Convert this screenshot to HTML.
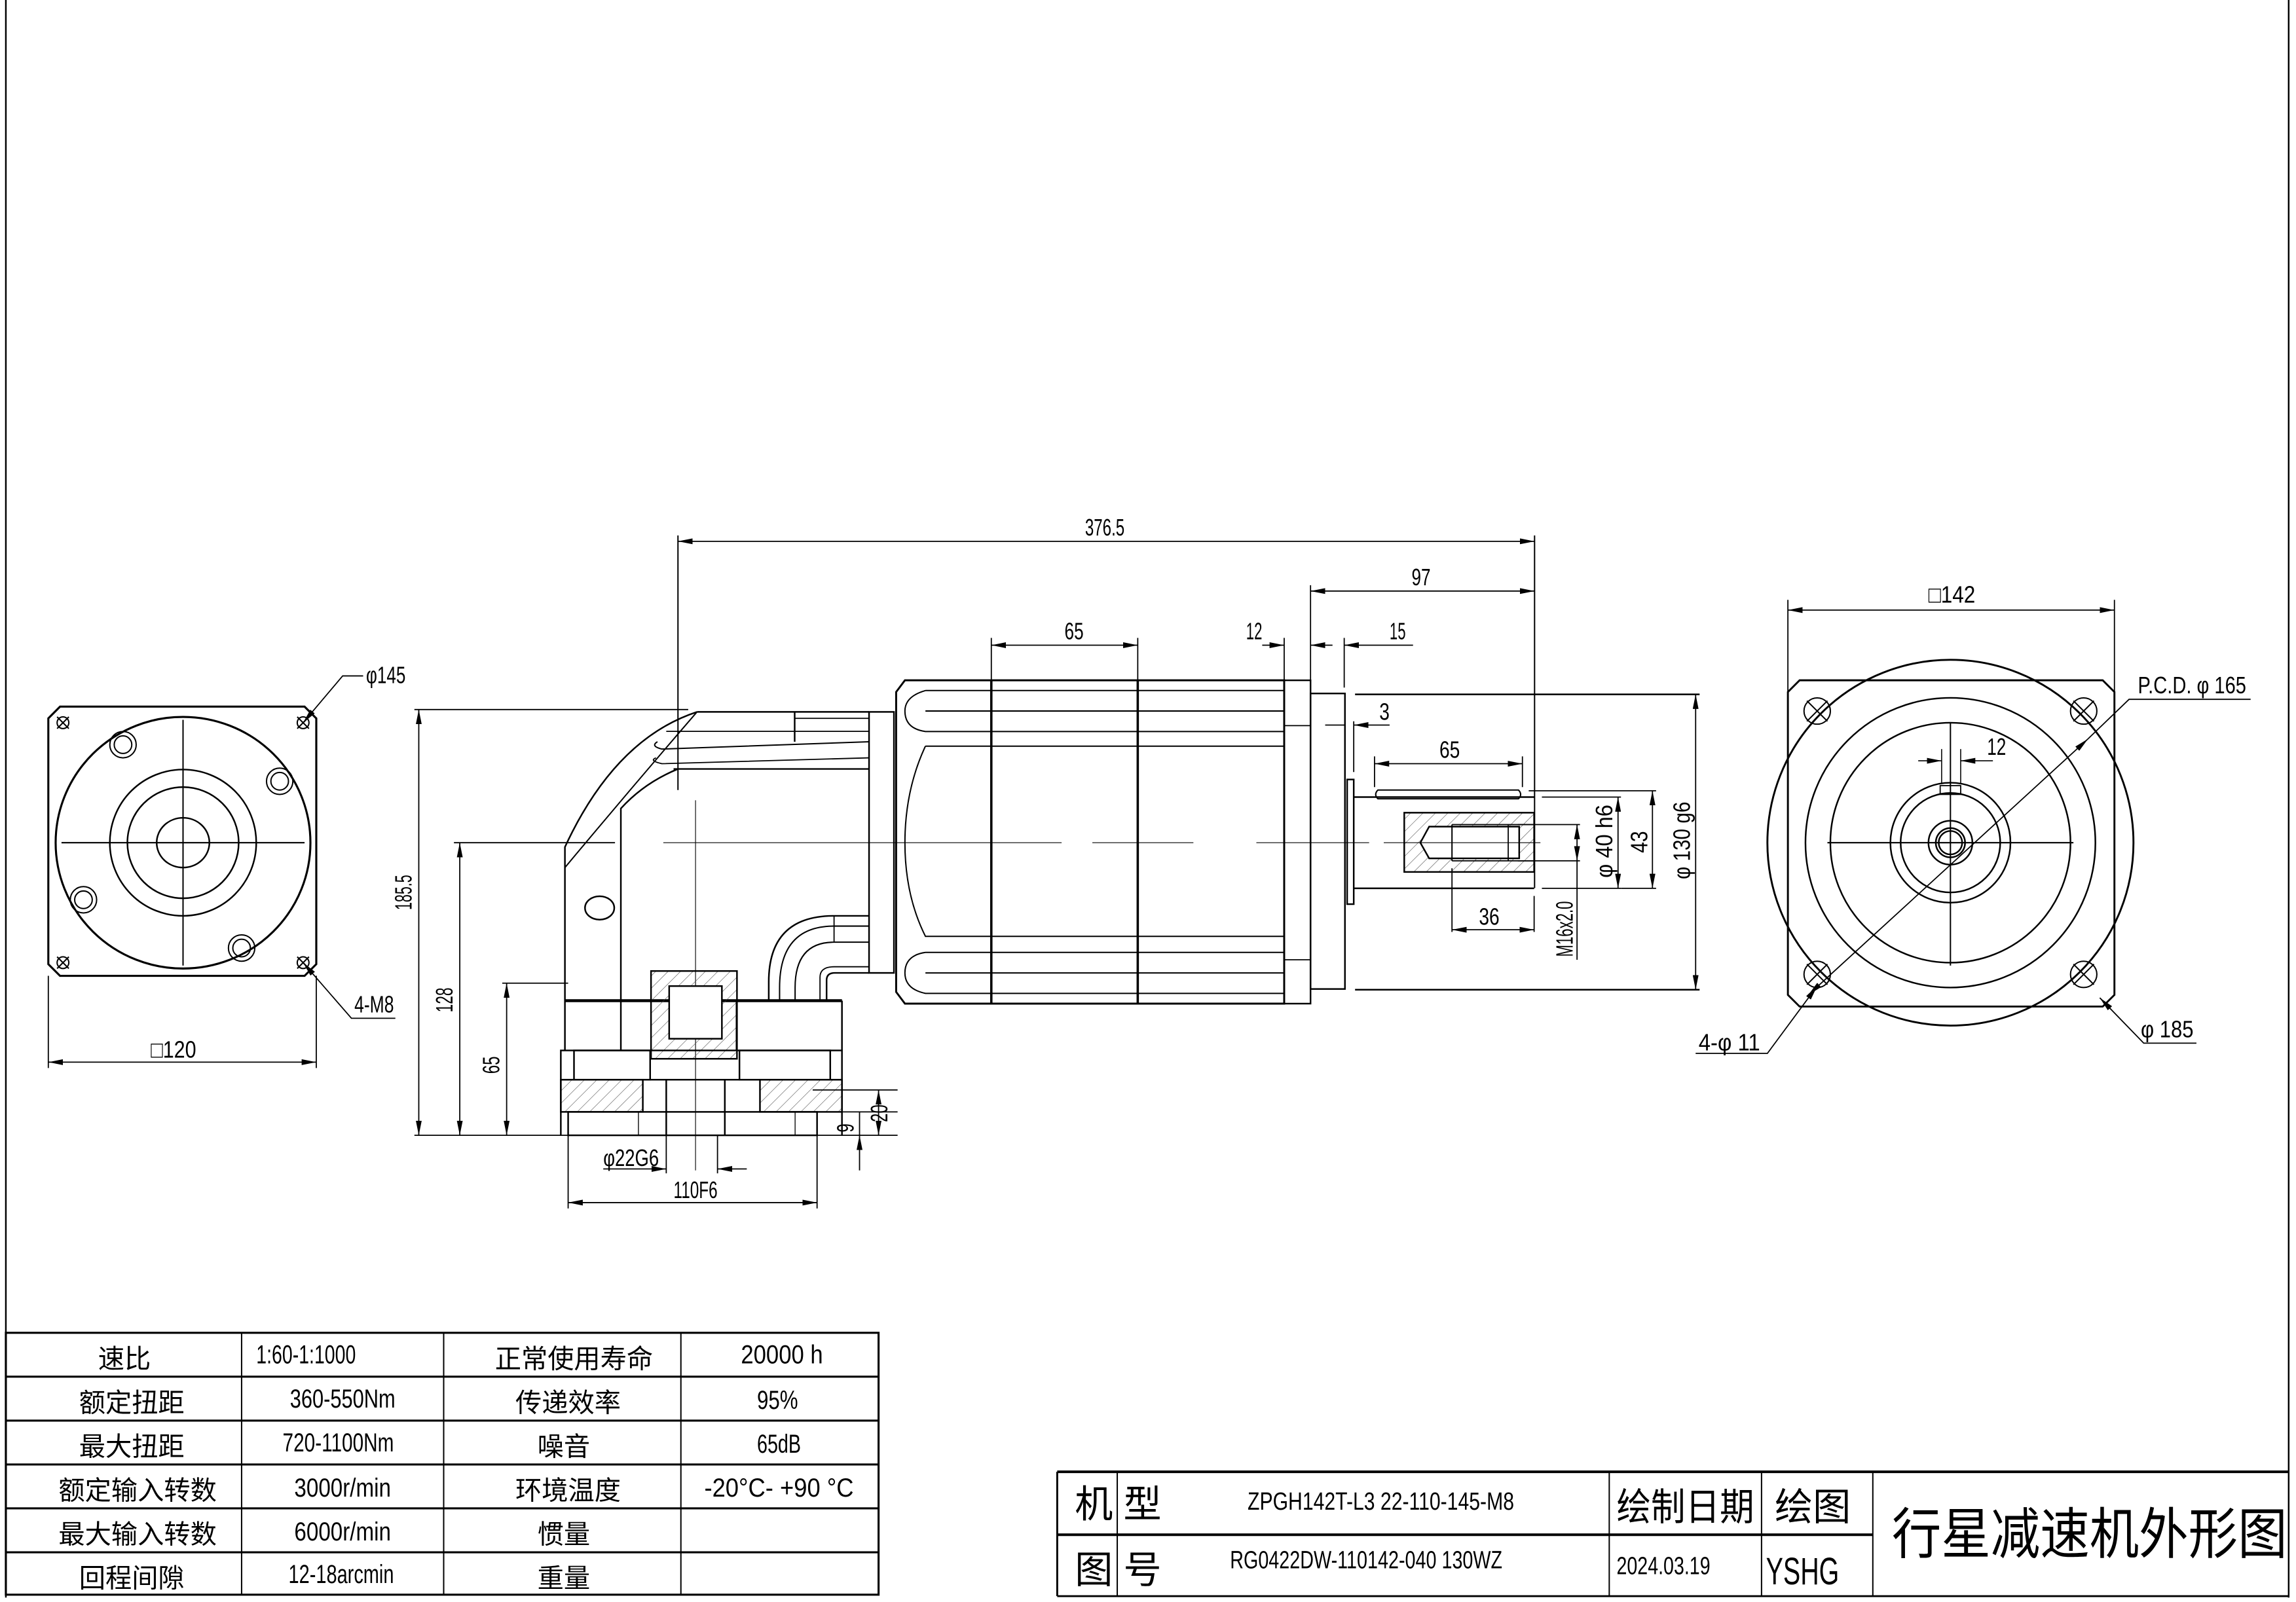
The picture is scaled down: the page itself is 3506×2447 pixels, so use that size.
<!DOCTYPE html>
<html><head><meta charset="utf-8"><style>
html,body{margin:0;padding:0;background:#fff}
svg{display:block}
text{font-family:"Liberation Sans","Noto Sans CJK SC",sans-serif;fill:#000}
</style></head><body>
<svg width="3506" height="2447" viewBox="0 0 1568 1095" preserveAspectRatio="none" xmlns="http://www.w3.org/2000/svg">
<defs>
<marker id="a" viewBox="0 0 10 4" refX="10" refY="2" markerWidth="10" markerHeight="4" markerUnits="userSpaceOnUse" orient="auto-start-reverse"><path d="M0,0 L10,2 L0,4z" fill="#000"/></marker>
<pattern id="h" width="6" height="6" patternUnits="userSpaceOnUse" patternTransform="rotate(45)"><line x1="0" y1="0" x2="0" y2="6" stroke="#444" stroke-width="0.5"/></pattern>
</defs>
<g fill="none" stroke="#000" stroke-width="1.1">
<line x1="4" y1="0" x2="4" y2="1092"/>
<line x1="1563" y1="0" x2="1563" y2="1092"/>

<path d="M41,483 L208,483 L216,491 L216,659 L208,667 L41,667 L33,659 L33,491 Z" stroke-width="1.4"/>
<ellipse cx="125" cy="576" rx="87" ry="86" stroke-width="1.4"/>
<ellipse cx="125" cy="576" rx="50" ry="50"/>
<ellipse cx="125" cy="576" rx="38" ry="38"/>
<ellipse cx="125" cy="576" rx="18" ry="17"/>
<line x1="125" y1="492" x2="125" y2="660" stroke-width="0.9"/>
<line x1="42" y1="576" x2="208" y2="576" stroke-width="0.9"/>
<g stroke-width="0.9">
<circle cx="84" cy="509" r="9"/><circle cx="84" cy="509" r="6"/>
<circle cx="191" cy="534" r="9"/><circle cx="191" cy="534" r="6"/>
<circle cx="57" cy="615" r="9"/><circle cx="57" cy="615" r="6"/>
<circle cx="165" cy="648" r="9"/><circle cx="165" cy="648" r="6"/>
<circle cx="43" cy="494" r="4"/><path d="M39,490 L47,498 M47,490 L39,498"/>
<circle cx="207" cy="494" r="4"/><path d="M203,490 L211,498 M211,490 L203,498"/>
<circle cx="43" cy="658" r="4"/><path d="M39,654 L47,662 M47,654 L39,662"/>
<circle cx="207" cy="658" r="4"/><path d="M203,654 L211,662 M211,654 L203,662"/>
</g>
<line x1="33" y1="667" x2="33" y2="730" stroke-width="0.8"/>
<line x1="216" y1="667" x2="216" y2="730" stroke-width="0.8"/>
<line x1="33" y1="726" x2="216" y2="726" stroke-width="0.8" marker-start="url(#a)" marker-end="url(#a)"/>
<polyline points="207,494 234,462 248,462" stroke-width="0.8" marker-start="url(#a)"/>
<polyline points="207,658 240,696 270,696" stroke-width="0.8" marker-start="url(#a)"/>

<line x1="283" y1="485" x2="470" y2="485" stroke-width="0.8"/>
<line x1="283" y1="776" x2="392" y2="776" stroke-width="0.8"/>
<line x1="286" y1="485" x2="286" y2="776" stroke-width="0.8" marker-start="url(#a)" marker-end="url(#a)"/>
<line x1="310" y1="576" x2="420" y2="576" stroke-width="0.8"/>
<line x1="314" y1="576" x2="314" y2="776" stroke-width="0.8" marker-start="url(#a)" marker-end="url(#a)"/>
<line x1="343" y1="672" x2="388" y2="672" stroke-width="0.8"/>
<line x1="346" y1="672" x2="346" y2="776" stroke-width="0.8" marker-start="url(#a)" marker-end="url(#a)"/>

<line x1="463" y1="366" x2="463" y2="540" stroke-width="0.9"/>
<line x1="1048" y1="366" x2="1048" y2="607" stroke-width="0.9"/>
<line x1="463" y1="370" x2="1048" y2="370" stroke-width="0.8" marker-start="url(#a)" marker-end="url(#a)"/>
<line x1="895" y1="400" x2="895" y2="465" stroke-width="0.8"/>
<line x1="895" y1="404" x2="1048" y2="404" stroke-width="0.8" marker-start="url(#a)" marker-end="url(#a)"/>
<line x1="677" y1="436" x2="677" y2="465" stroke-width="0.8"/>
<line x1="777" y1="436" x2="777" y2="465" stroke-width="0.8"/>
<line x1="677" y1="441" x2="777" y2="441" stroke-width="0.8" marker-start="url(#a)" marker-end="url(#a)"/>
<line x1="877" y1="436" x2="877" y2="465" stroke-width="0.8"/>
<line x1="918" y1="436" x2="918" y2="470" stroke-width="0.8"/>
<line x1="862" y1="441" x2="877" y2="441" stroke-width="0.8" marker-end="url(#a)"/>
<line x1="895" y1="441" x2="910" y2="441" stroke-width="0.8" marker-start="url(#a)"/>
<line x1="918" y1="441" x2="965" y2="441" stroke-width="0.8" marker-start="url(#a)"/>

<path d="M385.8,684 L385.8,579 Q420,505 476,486.6"/>
<path d="M385.8,593 Q430,540 476,486.6" stroke-width="0.9"/>
<path d="M424,684 L424,552.6 Q440,535 463,525.6" />
<line x1="476" y1="486.6" x2="593.5" y2="486.6"/>
<line x1="455" y1="499.9" x2="593.5" y2="499.9" stroke-width="0.8"/>
<path d="M449,507 Q444,510 452,512 L593.5,507" stroke-width="0.9"/>
<path d="M448,518 Q443,520 452,522 L593.5,518" stroke-width="0.8"/>
<line x1="460" y1="525.6" x2="593.5" y2="525.6"/>
<line x1="542.7" y1="486.6" x2="542.7" y2="507"/>
<line x1="542.7" y1="491" x2="593.5" y2="491" stroke-width="0.8"/>
<rect x="593.5" y="486.6" width="17" height="178.4"/>
<ellipse cx="409.5" cy="620.6" rx="10" ry="8"/>
<line x1="475" y1="547" x2="475" y2="800" stroke-width="0.5"/>
<line x1="453" y1="576" x2="725" y2="576" stroke-width="0.5"/>
<line x1="746" y1="576" x2="815" y2="576" stroke-width="0.5"/>
<line x1="858" y1="576" x2="935" y2="576" stroke-width="0.5"/>
<path d="M525,684 L525,671 Q525,626 569.6,626 L593.5,626"/>
<path d="M532.4,684 L532.4,675 Q532.4,633 569.6,633 L593.5,633" stroke-width="0.9"/>
<path d="M543,684 L543,675 Q543,644 569.6,644 L593.5,644" stroke-width="0.9"/>
<path d="M560,684 L560,668 Q560,660.8 569.6,660.8 L593.5,660.8" stroke-width="0.8"/>
<path d="M564.5,684 L564.5,670 Q564.5,665 570,665 L593.5,665"/>
<line x1="569.6" y1="626" x2="569.6" y2="644" stroke-width="0.8"/>
<line x1="385.8" y1="684" x2="575" y2="684" stroke-width="2"/>
<rect x="444.6" y="663.7" width="58.7" height="60" fill="url(#h)"/>
<rect x="457" y="674" width="36" height="36" fill="#fff"/>
<line x1="385.8" y1="684" x2="385.8" y2="718"/>
<line x1="424" y1="684" x2="424" y2="718"/>
<line x1="503" y1="684" x2="503" y2="718"/>
<line x1="575" y1="684" x2="575" y2="718"/>
<rect x="383" y="718" width="192" height="20"/>
<rect x="392" y="718" width="52" height="20"/>
<rect x="505" y="718" width="62" height="20"/>
<rect x="383" y="738" width="56" height="22" fill="url(#h)"/>
<rect x="519" y="738" width="56" height="22" fill="url(#h)"/>
<line x1="383" y1="760" x2="613" y2="760" stroke-width="0.8"/>
<rect x="388" y="760" width="170" height="16"/>
<line x1="455" y1="738" x2="455" y2="776"/>
<line x1="495" y1="738" x2="495" y2="776"/>
<line x1="436" y1="760" x2="436" y2="776" stroke-width="0.6"/>
<line x1="543" y1="760" x2="543" y2="776" stroke-width="0.6"/>
<line x1="383" y1="738" x2="383" y2="776"/>
<line x1="575" y1="738" x2="575" y2="776"/>
<line x1="600" y1="745" x2="600" y2="776" stroke-width="0.8" marker-start="url(#a)" marker-end="url(#a)"/>
<line x1="587" y1="760" x2="587" y2="776" stroke-width="0.8"/>
<line x1="587" y1="776" x2="587" y2="800" stroke-width="0.8" marker-start="url(#a)"/>
<line x1="555" y1="745" x2="613" y2="745" stroke-width="0.8"/>
<line x1="558" y1="776" x2="613" y2="776" stroke-width="0.8"/>
<line x1="388" y1="776" x2="388" y2="826" stroke-width="0.8"/>
<line x1="558" y1="776" x2="558" y2="826" stroke-width="0.8"/>
<line x1="388" y1="822" x2="558" y2="822" stroke-width="0.8" marker-start="url(#a)" marker-end="url(#a)"/>
<line x1="455" y1="776" x2="455" y2="802" stroke-width="0.8"/>
<line x1="490" y1="776" x2="490" y2="802" stroke-width="0.8"/>
<line x1="412" y1="799" x2="455" y2="799" stroke-width="0.8" marker-end="url(#a)"/>
<line x1="510" y1="799" x2="490" y2="799" stroke-width="0.8" marker-end="url(#a)"/>

<path d="M618,465 L877,465 L877,686 L618,686 L612,678 L612,473 Z" stroke-width="1.3"/>
<line x1="677" y1="465" x2="677" y2="686" stroke-width="1.6"/>
<line x1="777" y1="465" x2="777" y2="686" stroke-width="1.6"/>
<path d="M632,472 L877,472 M632,472 Q618,476 618,486 Q618,498 632,500 L877,500 M632,510 L877,510 M632,510 Q618,540 618,576 Q618,612 632,640 L877,640" stroke-width="0.9"/>
<path d="M632,651 Q618,653 618,665 Q618,676 632,679 L877,679 M632,651 L877,651 M632,665 L877,665 M632,486 L877,486" stroke-width="0.9"/>
<rect x="877" y="465" width="18" height="221"/>
<line x1="877" y1="496" x2="895" y2="496" stroke-width="0.8"/>
<line x1="877" y1="656" x2="895" y2="656" stroke-width="0.8"/>
<rect x="895" y="474" width="23.5" height="202"/>
<line x1="925.4" y1="474.6" x2="1160.7" y2="474.6"/>
<line x1="925.4" y1="676.5" x2="1160.7" y2="676.5"/>
<line x1="1158" y1="474.6" x2="1158" y2="676.5" stroke-width="0.8" marker-start="url(#a)" marker-end="url(#a)"/>
<rect x="920" y="532.8" width="4.5" height="85.2"/>
<line x1="924.5" y1="493" x2="924.5" y2="527.7" stroke-width="0.8"/>
<line x1="949" y1="495.6" x2="924.5" y2="495.6" stroke-width="0.8" marker-end="url(#a)"/>
<line x1="905" y1="495.6" x2="918" y2="495.6" stroke-width="0.8"/>
<line x1="924.5" y1="544.8" x2="1047.7" y2="544.8"/>
<line x1="924.5" y1="607.2" x2="1047.7" y2="607.2"/>
<path d="M941,540 L1037,540 Q1040,543 1037,546 L941,546 Q938,543 941,540Z" stroke-width="0.9"/>
<line x1="938.7" y1="517" x2="938.7" y2="538" stroke-width="0.8"/>
<line x1="1039.7" y1="517" x2="1039.7" y2="538" stroke-width="0.8"/>
<line x1="938.7" y1="522" x2="1039.7" y2="522" stroke-width="0.8" marker-start="url(#a)" marker-end="url(#a)"/>
<rect x="959" y="555.5" width="88.7" height="40.5" fill="url(#h)"/>
<path d="M976,565 L1037.5,565 L1037.5,586.7 L976,586.7 L970,576 Z" fill="#fff"/>
<line x1="991.6" y1="563.6" x2="991.6" y2="588.4" stroke-width="0.9"/>
<line x1="991.6" y1="563.6" x2="1047" y2="563.6" stroke-width="0.8"/>
<line x1="991.6" y1="588.4" x2="1047" y2="588.4" stroke-width="0.8"/>
<line x1="1030" y1="564" x2="1030" y2="588" stroke-width="0.8"/>
<line x1="1036.6" y1="563.6" x2="1079" y2="563.6" stroke-width="0.8"/>
<line x1="1036.6" y1="588.4" x2="1079" y2="588.4" stroke-width="0.8"/>
<line x1="1077" y1="563.6" x2="1077" y2="588.4" stroke-width="0.8" marker-start="url(#a)" marker-end="url(#a)"/>
<line x1="1077" y1="588.4" x2="1077" y2="656" stroke-width="0.8"/>
<line x1="1053" y1="544.8" x2="1107" y2="544.8" stroke-width="0.8"/>
<line x1="1053" y1="607.2" x2="1107" y2="607.2" stroke-width="0.8"/>
<line x1="1105" y1="544.8" x2="1105" y2="607.2" stroke-width="0.8" marker-start="url(#a)" marker-end="url(#a)"/>
<line x1="1044" y1="540.5" x2="1131" y2="540.5" stroke-width="0.8"/>
<line x1="1107" y1="607.2" x2="1131" y2="607.2" stroke-width="0.8"/>
<line x1="1128.5" y1="540.5" x2="1128.5" y2="607.2" stroke-width="0.8" marker-start="url(#a)" marker-end="url(#a)"/>
<line x1="991.6" y1="593.5" x2="991.6" y2="637" stroke-width="0.8"/>
<line x1="1047.7" y1="612.4" x2="1047.7" y2="637" stroke-width="0.8"/>
<line x1="991.6" y1="635.5" x2="1047.7" y2="635.5" stroke-width="0.8" marker-start="url(#a)" marker-end="url(#a)"/>
<line x1="945" y1="576" x2="1052" y2="576" stroke-width="0.5"/>

<path d="M1229,465 L1436,465 L1444,473 L1444,680 L1436,688 L1229,688 L1221,680 L1221,473 Z" stroke-width="1.3"/>
<circle cx="1332" cy="576" r="125" stroke-width="1.3"/>
<circle cx="1332" cy="576" r="99"/>
<circle cx="1332" cy="576" r="82"/>
<circle cx="1332" cy="576" r="41"/>
<circle cx="1332" cy="576" r="34"/>
<circle cx="1332" cy="576" r="15"/>
<circle cx="1332" cy="576" r="10"/>
<circle cx="1332" cy="576" r="8"/>
<rect x="1325" y="537" width="14" height="6" stroke-width="0.8"/>
<line x1="1248" y1="576" x2="1416" y2="576" stroke-width="0.9"/>
<line x1="1332" y1="494" x2="1332" y2="660" stroke-width="0.9"/>
<g stroke-width="0.9">
<circle cx="1241" cy="486" r="9"/><path d="M1234,479 L1248,493 M1248,479 L1234,493"/>
<circle cx="1423" cy="486" r="9"/><path d="M1416,479 L1430,493 M1430,479 L1416,493"/>
<circle cx="1241" cy="666" r="9"/><path d="M1234,659 L1248,673 M1248,659 L1234,673"/>
<circle cx="1423" cy="666" r="9"/><path d="M1416,659 L1430,673 M1430,659 L1416,673"/>
</g>
<line x1="1221" y1="410" x2="1221" y2="476" stroke-width="0.8"/>
<line x1="1444" y1="410" x2="1444" y2="476" stroke-width="0.8"/>
<line x1="1221" y1="417" x2="1444" y2="417" stroke-width="0.8" marker-start="url(#a)" marker-end="url(#a)"/>
<line x1="1235" y1="680" x2="1426" y2="505" stroke-width="0.8" marker-start="url(#a)" marker-end="url(#a)"/>
<polyline points="1426,505 1454,478 1537,478" stroke-width="0.8"/>
<polyline points="1241,674 1207,720 1158,720" stroke-width="0.8" marker-start="url(#a)"/>
<polyline points="1434,682 1464,713 1500,713" stroke-width="0.8" marker-start="url(#a)"/>
<line x1="1326" y1="512" x2="1326" y2="536" stroke-width="0.7"/>
<line x1="1339" y1="512" x2="1339" y2="536" stroke-width="0.7"/>
<line x1="1310" y1="520" x2="1326" y2="520" stroke-width="0.7" marker-end="url(#a)"/>
<line x1="1361" y1="520" x2="1339" y2="520" stroke-width="0.7" marker-end="url(#a)"/>

<g stroke-width="1.4">
<rect x="4" y="911" width="596" height="179"/>
<line x1="4" y1="941" x2="600" y2="941"/><line x1="4" y1="971" x2="600" y2="971"/>
<line x1="4" y1="1001" x2="600" y2="1001"/><line x1="4" y1="1031" x2="600" y2="1031"/>
<line x1="4" y1="1061" x2="600" y2="1061"/>
<line x1="165" y1="911" x2="165" y2="1090" stroke-width="0.9"/>
<line x1="303" y1="911" x2="303" y2="1090" stroke-width="0.9"/>
<line x1="465" y1="911" x2="465" y2="1090" stroke-width="0.9"/>
</g>
<g stroke-width="1.3">
<line x1="722" y1="1006" x2="1563" y2="1006" stroke-width="1.8"/>
<line x1="722" y1="1006" x2="722" y2="1091"/>
<line x1="722" y1="1049" x2="1279" y2="1049" stroke-width="1.8"/>
<line x1="722" y1="1091" x2="1563" y2="1091"/>
<line x1="763" y1="1006" x2="763" y2="1091" stroke-width="0.9"/>
<line x1="1099" y1="1006" x2="1099" y2="1091" stroke-width="0.9"/>
<line x1="1203" y1="1006" x2="1203" y2="1091" stroke-width="0.9"/>
<line x1="1279" y1="1006" x2="1279" y2="1091" stroke-width="0.9"/>
</g>
</g>

<g font-size="16">
<text x="250" y="467" textLength="27" lengthAdjust="spacingAndGlyphs">φ145</text>
<text x="242" y="692" textLength="27" lengthAdjust="spacingAndGlyphs">4-M8</text>
<text x="103" y="723" textLength="31" lengthAdjust="spacingAndGlyphs">□120</text>
<text transform="translate(281,622) rotate(-90)" textLength="24" lengthAdjust="spacingAndGlyphs">185.5</text>
<text transform="translate(309,692) rotate(-90)" textLength="17" lengthAdjust="spacingAndGlyphs">128</text>
<text transform="translate(341,734) rotate(-90)" textLength="12" lengthAdjust="spacingAndGlyphs">65</text>
<text transform="translate(606,767) rotate(-90)" textLength="12" lengthAdjust="spacingAndGlyphs">20</text>
<text transform="translate(583,774) rotate(-90)" textLength="6" lengthAdjust="spacingAndGlyphs">9</text>
<text x="412" y="797" textLength="38" lengthAdjust="spacingAndGlyphs">φ22G6</text>
<text x="460" y="819" textLength="30" lengthAdjust="spacingAndGlyphs">110F6</text>
<text x="741" y="366" textLength="27" lengthAdjust="spacingAndGlyphs">376.5</text>
<text x="964" y="400" textLength="13" lengthAdjust="spacingAndGlyphs">97</text>
<text x="727" y="437" textLength="13" lengthAdjust="spacingAndGlyphs">65</text>
<text x="851" y="437" textLength="11" lengthAdjust="spacingAndGlyphs">12</text>
<text x="949" y="437" textLength="11" lengthAdjust="spacingAndGlyphs">15</text>
<text x="942" y="492" textLength="7" lengthAdjust="spacingAndGlyphs">3</text>
<text x="983" y="518" textLength="14" lengthAdjust="spacingAndGlyphs">65</text>
<text x="1010" y="632" textLength="14" lengthAdjust="spacingAndGlyphs">36</text>
<text transform="translate(1074,654) rotate(-90)" textLength="38" lengthAdjust="spacingAndGlyphs">M16x2.0</text>
<text transform="translate(1101,600) rotate(-90)" textLength="50" lengthAdjust="spacingAndGlyphs">φ 40 h6</text>
<text transform="translate(1125,583) rotate(-90)" textLength="15" lengthAdjust="spacingAndGlyphs">43</text>
<text transform="translate(1154,601) rotate(-90)" textLength="53" lengthAdjust="spacingAndGlyphs">φ 130 g6</text>
<text x="1317" y="412" textLength="32" lengthAdjust="spacingAndGlyphs">□142</text>
<text x="1460" y="474" textLength="74" lengthAdjust="spacingAndGlyphs">P.C.D.  φ 165</text>
<text x="1357" y="516" textLength="13" lengthAdjust="spacingAndGlyphs">12</text>
<text x="1160" y="718" textLength="42" lengthAdjust="spacingAndGlyphs">4-φ 11</text>
<text x="1462" y="709" textLength="36" lengthAdjust="spacingAndGlyphs">φ 185</text>
</g>
<g font-size="18">
<text x="67" y="935">速比</text>
<text x="54" y="965">额定扭距</text>
<text x="54" y="995">最大扭距</text>
<text x="40" y="1025">额定输入转数</text>
<text x="40" y="1055">最大输入转数</text>
<text x="54" y="1085">回程间隙</text>
<text x="338" y="935">正常使用寿命</text>
<text x="352" y="965">传递效率</text>
<text x="367" y="995">噪音</text>
<text x="352" y="1025">环境温度</text>
<text x="367" y="1055">惯量</text>
<text x="367" y="1085">重量</text>
<text x="175" y="932" textLength="68" lengthAdjust="spacingAndGlyphs">1:60-1:1000</text>
<text x="198" y="962" textLength="72" lengthAdjust="spacingAndGlyphs">360-550Nm</text>
<text x="193" y="992" textLength="76" lengthAdjust="spacingAndGlyphs">720-1100Nm</text>
<text x="201" y="1023" textLength="66" lengthAdjust="spacingAndGlyphs">3000r/min</text>
<text x="201" y="1053" textLength="66" lengthAdjust="spacingAndGlyphs">6000r/min</text>
<text x="197" y="1082" textLength="72" lengthAdjust="spacingAndGlyphs">12-18arcmin</text>
<text x="506" y="932" textLength="56" lengthAdjust="spacingAndGlyphs">20000 h</text>
<text x="517" y="963" textLength="28" lengthAdjust="spacingAndGlyphs">95%</text>
<text x="517" y="993" textLength="30" lengthAdjust="spacingAndGlyphs">65dB</text>
<text x="481" y="1023" textLength="102" lengthAdjust="spacingAndGlyphs">-20°C- +90 °C</text>
</g>
<g font-size="26">
<text x="734" y="1037">机 型</text>
<text x="734" y="1082">图 号</text>
<text x="1104" y="1039" textLength="94" lengthAdjust="spacingAndGlyphs">绘制日期</text>
<text x="1212" y="1039">绘图</text>
<text x="1206" y="1083" textLength="50" lengthAdjust="spacingAndGlyphs">YSHG</text>
</g>
<g font-size="17">
<text x="852" y="1032" textLength="182" lengthAdjust="spacingAndGlyphs">ZPGH142T-L3   22-110-145-M8</text>
<text x="840" y="1072" textLength="186" lengthAdjust="spacingAndGlyphs">RG0422DW-110142-040  130WZ</text>
<text x="1104" y="1076" textLength="64" lengthAdjust="spacingAndGlyphs">2024.03.19</text>
</g>
<text x="1292" y="1062" font-size="38" textLength="270" lengthAdjust="spacingAndGlyphs">行星减速机外形图</text>
</svg>
</body></html>
